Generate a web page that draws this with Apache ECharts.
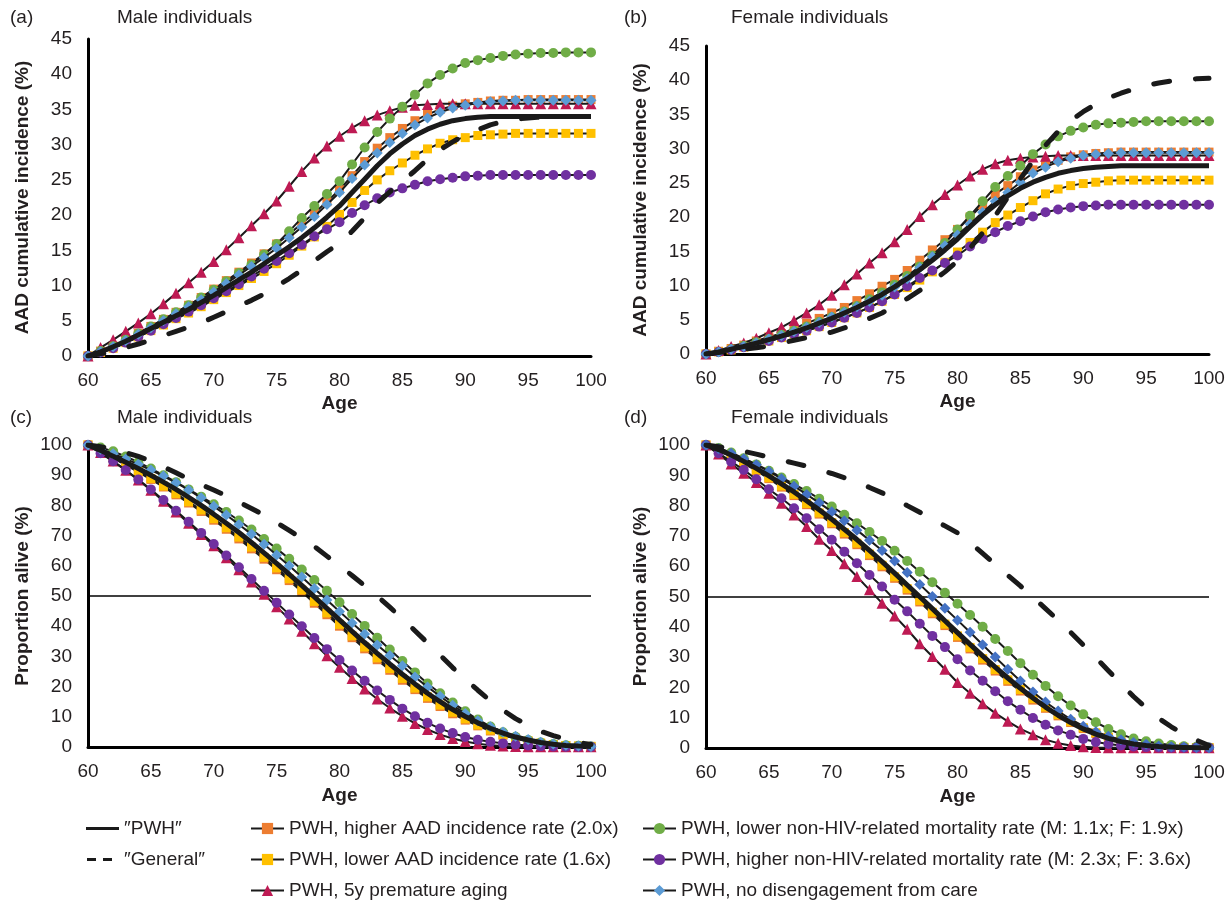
<!DOCTYPE html>
<html>
<head>
<meta charset="utf-8">
<script src="https://cdn.jsdelivr.net/npm/echarts@6/dist/echarts.min.js"></script>
<style>
html,body{margin:0;padding:0;background:#fff;}
#chart{width:1232px;height:904px;}
</style>
</head>
<body>
<div id="chart"></div>
<script>
// ---------- DATA ----------
const ages = [60,61,62,63,64,65,66,67,68,69,70,71,72,73,74,75,76,77,78,79,80,81,82,83,84,85,86,87,88,89,90,91,92,93,94,95,96,97,98,99,100];
const xTicks = [60,65,70,75,80,85,90,95,100];
const refLevel = [50];

const seriesNames = ['″PWH″','″General″','PWH, higher AAD incidence rate (2.0x)','PWH, lower AAD incidence rate (1.6x)','PWH, 5y premature aging','PWH, lower non-HIV-related mortality rate (M: 1.1x; F: 1.9x)','PWH, higher non-HIV-related mortality rate (M: 2.3x; F: 3.6x)','PWH, no disengagement from care'];
const panelLabels = ['(a)','(b)','(c)','(d)'];
const panelTitles = ['Male individuals','Female individuals','Male individuals','Female individuals'];

// Panel (a): AAD cumulative incidence, male
const aPWH        = [0,0.6,1.3,2.1,3.0,3.9,4.8,5.7,6.6,7.6, 8.6,9.7,10.8,11.9,13.1,14.3,15.5,16.8,18.2,19.7, 21.3,23.2,25.1,27.0,28.7,30.1,31.3,32.2,32.9,33.4, 33.7,33.9,34.0,34.0,34.0,34.0,34.0,34.0,34.0,34.0,34.0];
const aGeneral    = [0,0.3,0.7,1.2,1.7,2.3,2.9,3.5,4.1,4.7, 5.5,6.3,7.1,7.9,8.8,9.9,11.0,12.2,13.5,14.8, 16.0,17.7,19.6,21.7,23.3,24.8,26.3,27.9,29.3,30.4, 31.4,32.1,32.8,33.3,33.6,33.8,33.9,34.0,34.0,34.0,34.0];
const aHigherAAD  = [0,0.7,1.4,2.3,3.2,4.2,5.2,6.2,7.2,8.3, 9.5,10.7,11.9,13.2,14.5,15.9,17.3,18.8,20.3,21.9, 23.6,25.6,27.6,29.5,31.0,32.3,33.4,34.3,35.0,35.5, 35.8,36.0,36.2,36.3,36.3,36.4,36.4,36.4,36.4,36.4,36.4];
const aLowerAAD   = [0,0.5,1.1,1.9,2.7,3.6,4.4,5.3,6.1,7.0, 8.0,9.0,10.0,11.0,12.0,13.1,14.3,15.6,16.9,18.4, 20.1,21.8,23.5,25.0,26.3,27.4,28.5,29.4,30.2,30.7, 31.0,31.3,31.4,31.5,31.6,31.6,31.6,31.6,31.6,31.6,31.6];
const aPremature  = [0,1.2,2.3,3.5,4.7,6.0,7.4,8.9,10.4,11.9, 13.4,15.1,16.8,18.5,20.2,22.0,24.1,26.2,28.1,29.8, 31.2,32.4,33.4,34.2,34.8,35.3,35.6,35.7,35.8,35.8, 35.8,35.8,35.8,35.8,35.8,35.8,35.8,35.8,35.8,35.8,35.8];
const aLowerMort  = [0,0.7,1.4,2.3,3.2,4.2,5.2,6.2,7.2,8.3, 9.4,10.6,11.8,13.0,14.4,15.9,17.7,19.6,21.3,23.0, 24.8,27.2,29.6,31.8,33.7,35.4,37.1,38.7,39.9,40.8, 41.6,42.0,42.3,42.6,42.8,42.9,43.0,43.0,43.1,43.1,43.1];
const aHigherMort = [0,0.5,1.1,1.9,2.7,3.6,4.5,5.4,6.3,7.2, 8.2,9.2,10.2,11.3,12.4,13.5,14.6,15.8,17.0,18.0, 19.0,20.3,21.4,22.4,23.2,23.8,24.3,24.8,25.1,25.3, 25.5,25.6,25.7,25.7,25.7,25.7,25.7,25.7,25.7,25.7,25.7];
const aNoDiseng   = [0,0.6,1.3,2.2,3.1,4.0,5.0,6.0,7.0,8.0, 9.1,10.3,11.5,12.7,14.0,15.3,16.8,18.3,19.8,21.5, 23.2,25.2,27.1,28.8,30.3,31.6,32.8,33.8,34.6,35.2, 35.6,35.9,36.1,36.2,36.3,36.3,36.3,36.3,36.3,36.3,36.3];

// Panel (b): AAD cumulative incidence, female
const bPWH        = [0,0.3,0.7,1.1,1.6,2.1,2.6,3.2,3.8,4.5, 5.2,6.0,6.8,7.7,8.7,9.8,11.0,12.3,13.7,15.2, 16.8,18.6,20.3,21.8,23.1,24.2,25.1,25.8,26.4,26.8, 27.1,27.3,27.4,27.5,27.5,27.5,27.5,27.5,27.5,27.5,27.5];
const bGeneral    = [0,0.2,0.5,0.7,0.9,1.2,1.6,2.0,2.4,2.8, 3.2,3.8,4.5,5.2,6.0,7.0,8.1,9.3,10.6,12.0, 13.6,15.5,17.7,20.2,22.9,25.6,28.2,30.5,32.5,34.1, 35.4,36.5,37.4,38.1,38.7,39.2,39.6,39.9,40.1,40.2,40.3];
const bHigherAAD  = [0,0.4,0.8,1.3,1.9,2.5,3.0,3.7,4.5,5.2, 6.0,6.8,7.8,8.8,9.9,10.9,12.2,13.7,15.2,16.7, 18.2,20.0,21.8,23.4,24.6,25.9,26.9,27.7,28.3,28.8, 29.1,29.3,29.4,29.5,29.5,29.5,29.5,29.5,29.5,29.5,29.5];
const bLowerAAD   = [0,0.3,0.6,1.0,1.4,1.9,2.4,2.9,3.4,4.0, 4.6,5.3,6.0,6.8,7.7,8.7,9.7,10.8,12.0,13.4, 14.9,16.3,17.8,19.2,20.3,21.4,22.4,23.4,24.1,24.6, 24.9,25.1,25.3,25.4,25.4,25.4,25.4,25.4,25.4,25.4,25.4];
const bPremature  = [0,0.5,1.1,1.6,2.3,3.1,3.9,4.9,6.0,7.2, 8.6,10.1,11.7,13.3,14.8,16.4,18.2,20.1,21.8,23.3, 24.7,26.0,27.0,27.8,28.3,28.6,28.8,28.9,29.0,29.0, 29.0,29.0,29.0,29.0,29.0,29.0,29.0,29.0,29.0,29.0,29.0];
const bLowerMort  = [0,0.3,0.7,1.2,1.7,2.2,2.8,3.4,4.0,4.7, 5.4,6.2,7.0,8.0,9.0,10.1,11.4,12.8,14.4,16.2, 18.2,20.2,22.3,24.4,26.0,27.5,29.2,30.6,31.8,32.6, 33.1,33.5,33.7,33.8,33.9,34.0,34.0,34.0,34.0,34.0,34.0];
const bHigherMort = [0,0.3,0.6,1.0,1.4,1.9,2.4,2.9,3.4,4.0, 4.6,5.3,6.0,6.8,7.7,8.7,9.9,11.1,12.2,13.3, 14.4,15.7,16.8,17.8,18.7,19.4,20.1,20.7,21.1,21.4, 21.6,21.7,21.8,21.8,21.8,21.8,21.8,21.8,21.8,21.8,21.8];
const bNoDiseng   = [0,0.3,0.7,1.1,1.6,2.2,2.7,3.3,3.9,4.6, 5.4,6.1,6.9,7.7,8.6,9.8,11.0,12.6,14.2,15.8, 17.4,19.0,20.7,22.3,23.6,25.1,26.4,27.3,28.1,28.6, 29.0,29.2,29.3,29.4,29.4,29.4,29.4,29.4,29.4,29.4,29.4];

// Panel (c): proportion alive, male
const cPWH        = [100,98.2,96.3,94.3,92.2,90.0,87.7,85.3,82.7,80.0, 77.1,74.1,71.0,67.7,64.3,60.8,57.2,53.5,49.7,45.9, 42.1,38.3,34.6,31.0,27.5,24.1,20.9,17.8,15.0,12.4, 10.1,8.0,6.2,4.6,3.3,2.3,1.5,0.9,0.5,0.3,0.2];
const cGeneral    = [100,99.4,98.6,97.5,96.2,94.7,92.8,90.8,88.7,86.9, 85.1,83.2,81.1,79.0,76.8,74.3,71.7,69.1,66.4,63.2, 60.0,56.8,53.4,50.0,46.3,42.5,38.5,34.5,30.4,26.3, 22.4,18.8,15.3,12.2,9.4,7.2,5.2,3.8,2.5,1.5,0.8];
const cHigherAAD  = [100,97.8,95.6,93.4,91.0,88.6,86.1,83.5,80.8,78.0, 75.1,72.1,68.9,65.6,62.2,58.7,55.1,51.4,47.6,43.8, 40.0,36.2,32.5,28.9,25.4,22.1,19.0,16.1,13.4,11.0, 8.9,7.0,5.3,3.9,2.8,1.9,1.2,0.8,0.5,0.3,0.2];
const cLowerAAD   = [100,97.9,95.8,93.6,91.3,88.9,86.4,83.9,81.2,78.5, 75.6,72.6,69.5,66.2,62.8,59.3,55.7,52.0,48.2,44.4, 40.6,36.8,33.1,29.5,26.0,22.7,19.5,16.6,13.9,11.5, 9.3,7.3,5.6,4.1,2.9,2.0,1.3,0.8,0.5,0.3,0.2];
const cPremature  = [100,97.5,94.7,91.6,88.4,85.0,81.4,77.8,74.1,70.4, 66.6,62.7,58.7,54.6,50.6,46.4,42.4,38.3,34.2,30.2, 26.4,22.7,19.2,15.9,12.9,10.2,7.8,5.8,4.1,2.8, 1.8,1.1,0.6,0.3,0.2,0.1,0.1,0.1,0.1,0.1,0.1];
const cLowerMort  = [100,99.2,97.9,96.2,94.3,92.2,90.0,87.7,85.3,82.9, 80.4,77.8,75.0,72.0,68.9,65.7,62.3,58.8,55.3,51.7, 47.9,44.0,40.1,36.2,32.3,28.5,24.7,21.0,17.8,14.7, 11.8,9.1,6.8,4.9,3.4,2.3,1.5,1.0,0.6,0.4,0.2];
const cHigherMort = [100,97.3,94.6,91.7,88.6,85.3,81.8,78.2,74.6,70.9, 67.2,63.4,59.5,55.6,51.7,47.8,43.9,40.0,36.1,32.4, 28.8,25.3,21.9,18.7,15.6,12.7,10.2,8.0,6.1,4.6, 3.3,2.4,1.7,1.2,0.8,0.5,0.3,0.2,0.1,0.1,0.1];
const cNoDiseng   = [100,98.6,97.1,95.4,93.6,91.7,89.7,87.5,85.1,82.5, 79.7,76.8,73.7,70.5,67.1,63.6,60.0,56.3,52.5,48.7, 44.9,41.1,37.4,33.8,30.3,26.9,23.2,19.9,16.8,13.8, 11.1,8.7,6.7,5.0,3.6,2.5,1.6,1.0,0.6,0.3,0.2];

// Panel (d): proportion alive, female
const dPWH        = [100,98.5,96.7,94.6,92.3,89.8,87.2,84.5,81.6,78.6, 75.5,72.2,68.8,65.2,61.5,57.7,53.8,49.9,46.0,42.0, 38.1,34.2,30.4,26.7,23.1,19.7,16.5,13.5,10.8,8.4, 6.3,4.6,3.2,2.1,1.3,0.8,0.5,0.3,0.2,0.1,0.1];
const dGeneral    = [100,99.4,98.8,97.9,97.0,96.0,95.0,94.0,93.0,91.8, 90.6,89.2,87.6,86.0,84.2,82.2,80.0,77.8,75.5,73.3, 71.0,67.8,64.2,60.6,57.0,53.5,49.8,46.0,42.2,38.2, 34.0,29.8,25.5,21.2,17.0,13.2,9.8,7.0,4.6,2.6,0.8];
const dHigherAAD  = [100,98.2,96.2,93.9,91.5,88.9,86.1,83.3,80.3,77.2, 74.0,70.6,67.1,63.5,59.8,56.0,52.1,48.2,44.3,40.4, 36.5,32.7,29.0,25.4,22.0,18.8,15.8,13.1,10.6,8.4, 6.4,4.8,3.4,2.4,1.5,1.0,0.6,0.3,0.2,0.1,0.1];
const dLowerAAD   = [100,98.3,96.4,94.2,91.8,89.2,86.5,83.7,80.7,77.6, 74.4,71.1,67.6,64.0,60.3,56.5,52.6,48.7,44.8,40.9, 37.0,33.2,29.5,25.9,22.5,19.3,16.3,13.5,11.0,8.7, 6.7,5.0,3.6,2.5,1.6,1.0,0.6,0.4,0.2,0.1,0.1];
const dPremature  = [100,97.0,93.7,90.7,87.6,84.1,80.8,76.9,73.1,68.9, 65.2,60.8,56.6,52.2,47.8,43.6,39.2,34.4,30.2,26.0, 21.6,18.1,14.6,11.5,8.8,6.3,4.4,2.7,1.6,0.8, 0.4,0.2,0.1,0.1,0.1,0.1,0.1,0.1,0.1,0.1,0.1];
const dLowerMort  = [100,99.0,97.5,95.6,93.6,91.5,89.3,87.1,84.8,82.3, 79.7,77.0,74.2,71.3,68.3,65.1,61.7,58.2,54.7,51.2, 47.6,43.9,40.0,36.0,32.0,28.0,24.2,20.5,17.1,14.0, 11.1,8.5,6.3,4.5,3.1,2.2,1.5,1.0,0.6,0.4,0.2];
const dHigherMort = [100,97.3,94.5,91.8,88.7,85.4,82.4,79.1,75.8,72.2, 68.7,64.8,61.0,57.1,53.3,48.9,45.1,41.0,37.0,33.3, 29.3,25.6,22.2,18.7,15.4,12.6,9.9,7.7,5.8,4.4, 3.0,2.0,1.3,0.8,0.5,0.3,0.2,0.1,0.1,0.1,0.1];
const dNoDiseng   = [100,98.8,97.3,95.5,93.5,91.3,88.9,86.4,83.7,80.9, 78.0,75.0,71.9,68.6,65.2,61.7,57.9,54.0,50.0,46.1, 42.2,38.2,34.1,30.0,26.0,22.1,18.5,15.2,12.2,9.5, 7.2,5.4,3.9,2.7,1.8,1.2,0.7,0.4,0.3,0.2,0.1];

// ---------- STYLE ----------
const FONT = '"Liberation Sans", Arial, sans-serif';
const TXT = '#231F20';
const LINE = '#1a1a1a';
const markerStyles = {
  'PWH, higher AAD incidence rate (2.0x)': {symbol:'rect', size:9, color:'#ED7D31'},
  'PWH, lower AAD incidence rate (1.6x)': {symbol:'rect', size:9, color:'#FFC000'},
  'PWH, 5y premature aging': {symbol:'triangle', size:11, color:'#BE1A53'},
  'PWH, lower non-HIV-related mortality rate (M: 1.1x; F: 1.9x)': {symbol:'circle', size:10, color:'#70AD47'},
  'PWH, higher non-HIV-related mortality rate (M: 2.3x; F: 3.6x)': {symbol:'circle', size:10, color:'#7030A0'},
  'PWH, no disengagement from care': {symbol:'diamond', size:11, color:'#5B9BD5'}
};

const panels = [
  {pwh:aPWH, gen:aGeneral, vals:[aHigherAAD,aLowerAAD,aPremature,aLowerMort,aHigherMort,aNoDiseng]},
  {pwh:bPWH, gen:bGeneral, vals:[bHigherAAD,bLowerAAD,bPremature,bLowerMort,bHigherMort,bNoDiseng]},
  {pwh:cPWH, gen:cGeneral, vals:[cHigherAAD,cLowerAAD,cPremature,cLowerMort,cHigherMort,cNoDiseng]},
  {pwh:dPWH, gen:dGeneral, vals:[dHigherAAD,dLowerAAD,dPremature,dLowerMort,dHigherMort,dNoDiseng]}
];

const grids = [
  {left:88, top:39, width:503, height:317},
  {left:706, top:46, width:503, height:308},
  {left:88, top:445, width:503, height:302},
  {left:706, top:445, width:503, height:303}
];

function zip(v){ return ages.map((a,i)=>[a, v[i]]); }

const xAxes = grids.map((g,i)=>({
  type:'value', gridIndex:i, min:xTicks[0], max:xTicks[xTicks.length-1], interval:5,
  name:'Age', nameLocation:'middle', nameGap: i<2 ? 38 : 39,
  nameTextStyle:{fontFamily:FONT, fontSize:19, fontWeight:'bold', color:TXT},
  axisLine:{show:true, onZero:false, lineStyle:{color:'#000', width:3}},
  axisTick:{show:false}, splitLine:{show:false},
  axisLabel:{fontFamily:FONT, fontSize:19, color:TXT, margin:15}
}));
const yAxes = grids.map((g,i)=>({
  type:'value', gridIndex:i, min:0, max: i<2 ? 45 : 100, interval: i<2 ? 5 : 10,
  name: i<2 ? 'AAD cumulative incidence (%)' : 'Proportion alive (%)',
  nameLocation:'middle', nameGap: 56,
  nameTextStyle:{fontFamily:FONT, fontSize:19, fontWeight:'bold', color:TXT},
  axisLine:{show:true, lineStyle:{color:'#000', width:3}},
  axisTick:{show:false}, splitLine:{show:false},
  axisLabel:{fontFamily:FONT, fontSize:19, color:TXT, margin:16}
}));

const series = [];
panels.forEach((p,i)=>{
  if (i>=2) {
    series.push({type:'line', name:'ref', xAxisIndex:i, yAxisIndex:i, data:[], silent:true, z:1,
      markLine:{silent:true, symbol:'none', label:{show:false}, animation:false,
        lineStyle:{color:'#000', width:1.5, type:'solid'}, data:[{yAxis:refLevel[0]}]}});
  }
  p.vals.forEach((v,k)=>{
    const nm = seriesNames[k+2];
    const ms = markerStyles[nm];
    let col = ms.color;
    if (i===3 && k===5) col = '#4472C4';
    series.push({type:'line', name:nm, xAxisIndex:i, yAxisIndex:i, data:zip(v),
      symbol:ms.symbol, symbolSize:ms.size, showSymbol:true,
      itemStyle:{color:col}, lineStyle:{color:LINE, width:2}, z:3+k});
  });
  series.push({type:'line', name:seriesNames[1], xAxisIndex:i, yAxisIndex:i, data:zip(p.gen),
    symbol:'none', lineStyle:{color:LINE, width:5, type:[16,26], cap:'round'}, itemStyle:{color:LINE}, z:12});
  series.push({type:'line', name:seriesNames[0], xAxisIndex:i, yAxisIndex:i, data:zip(p.pwh),
    symbol:'none', lineStyle:{color:LINE, width:5}, itemStyle:{color:LINE}, z:13});
});

const solidIcon = 'path://M0,0M33,14M0,5.5L33,5.5L33,8.5L0,8.5Z';
const dashIcon  = 'path://M0,0M33,14M1,5.5L10,5.5L10,8.5L1,8.5ZM17,5.5L26,5.5L26,8.5L17,8.5Z';
const legendBase = {orient:'vertical', itemWidth:33, itemHeight:14, itemGap:12, selectedMode:false, padding:0,
  textStyle:{fontFamily:FONT, fontSize:19, color:TXT}, top:819, height:85};
const legends = [
  Object.assign({}, legendBase, {left:86, data:[{name:seriesNames[0], icon:solidIcon}, {name:seriesNames[1], icon:dashIcon}]}),
  Object.assign({}, legendBase, {left:250, data:[seriesNames[2], seriesNames[3], seriesNames[4]]}),
  Object.assign({}, legendBase, {left:642, data:[seriesNames[5], seriesNames[6], seriesNames[7]]})
];

const labelPos = [[10,8],[624,8],[10,408],[624,408]];
const titlePos = [[117,8],[731,8],[117,408],[731,408]];
const graphics = [];
labelPos.forEach((pos,i)=>{
  graphics.push({type:'text', left:pos[0], top:pos[1], style:{text:panelLabels[i], font:'19px '+FONT, fill:TXT}});
  graphics.push({type:'text', left:titlePos[i][0], top:titlePos[i][1], style:{text:panelTitles[i], font:'19px '+FONT, fill:TXT}});
});

const chart = echarts.init(document.getElementById('chart'), null, {renderer:'canvas'});
chart.setOption({
  animation:false,
  backgroundColor:'#fff',
  grid:grids, xAxis:xAxes, yAxis:yAxes, series:series, legend:legends, graphic:graphics
});
</script>
</body>
</html>
